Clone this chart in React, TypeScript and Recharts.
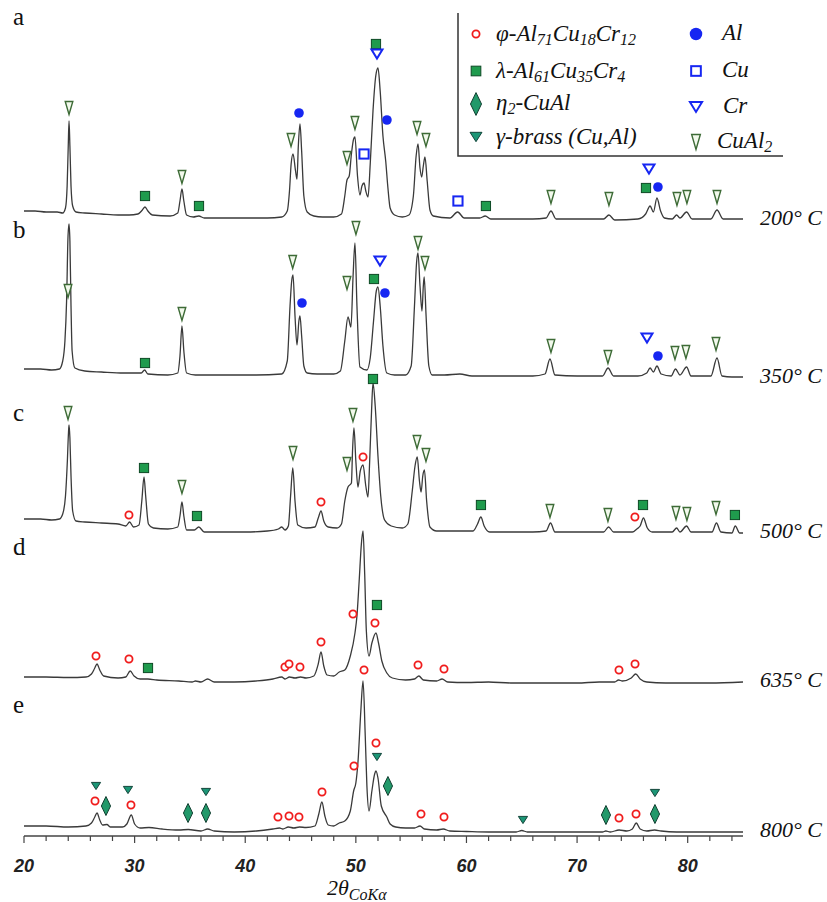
import React from 'react'
import { ComposedChart, Line, Scatter, XAxis, YAxis } from 'recharts'

type Pt = [number, number]

// 2θ (deg) vs intensity (arb. units), each pattern already shifted up for stacking
const pattern200: Pt[] = [
  [20.0, 625], [21.0, 625], [22.0, 624], [23.0, 624], [23.5, 623], [23.75, 628], [23.9, 650], [24.0, 690], [24.07, 715],
  [24.15, 690], [24.25, 650], [24.4, 630], [24.7, 624], [25.5, 623], [27.0, 622], [28.5, 621], [29.5, 621], [30.3, 622],
  [30.7, 626], [30.94, 629], [31.2, 625], [31.6, 621], [33.2, 620], [33.9, 623], [34.1, 635], [34.28, 647], [34.45, 635],
  [34.7, 621], [35.3, 619], [35.8, 620], [36.3, 618], [38.0, 618], [40.0, 618], [42.0, 618], [43.3, 619], [43.8, 625],
  [44.0, 645], [44.15, 672], [44.32, 682], [44.55, 665], [44.68, 657], [44.8, 690], [44.95, 712], [45.1, 685], [45.3, 640],
  [45.6, 624], [46.2, 620], [47.0, 619], [48.0, 619], [48.7, 622], [49.0, 640], [49.2, 656], [49.4, 660], [49.6, 682],
  [49.8, 697], [49.92, 699], [50.15, 660], [50.37, 641], [50.55, 650], [50.74, 653], [50.9, 645], [51.1, 639], [51.3, 672],
  [51.55, 725], [51.8, 760], [52.0, 768], [52.2, 745], [52.45, 700], [52.7, 675], [52.9, 648], [53.1, 628], [53.5, 621],
  [54.2, 619], [54.8, 621], [55.2, 640], [55.45, 680], [55.62, 692], [55.8, 668], [55.95, 659], [56.1, 670], [56.25, 679],
  [56.45, 655], [56.7, 626], [57.0, 620], [58.5, 618], [59.2, 624], [59.8, 618], [61.2, 618], [61.7, 620], [62.2, 617],
  [64.0, 617], [66.0, 617], [67.2, 618], [67.64, 625], [68.1, 617], [70.0, 617], [72.4, 617], [72.88, 621], [73.4, 616],
  [75.5, 617], [76.2, 622], [76.6, 630], [76.9, 624], [77.22, 638], [77.55, 625], [77.9, 618], [78.6, 617], [79.0, 621],
  [79.3, 618], [79.9, 624], [80.4, 617], [82.1, 617], [82.65, 626], [83.2, 617], [84.0, 617], [85.0, 617],
]

const pattern350: Pt[] = [
  [20.0, 467], [21.5, 467], [22.5, 466], [23.2, 467], [23.5, 475], [23.7, 495], [23.85, 535], [23.98, 600], [24.07, 612],
  [24.15, 595], [24.25, 530], [24.35, 485], [24.6, 468], [25.5, 465], [27.0, 464], [29.0, 463], [30.6, 463], [30.9, 466],
  [31.2, 462], [33.0, 461], [33.9, 463], [34.1, 480], [34.28, 510], [34.45, 485], [34.7, 463], [35.5, 461], [38.0, 461],
  [41.0, 461], [43.3, 462], [43.8, 475], [44.05, 530], [44.2, 555], [44.32, 561], [44.5, 520], [44.68, 491], [44.85, 515],
  [44.95, 520], [45.1, 500], [45.3, 470], [45.6, 463], [46.5, 462], [48.0, 462], [48.6, 465], [49.0, 495], [49.29, 519],
  [49.56, 509], [49.75, 560], [49.92, 593], [50.1, 530], [50.37, 469], [51.0, 466], [51.3, 478], [51.6, 515], [51.85, 545],
  [52.0, 549], [52.2, 530], [52.45, 490], [52.8, 463], [53.5, 461], [54.5, 461], [55.0, 470], [55.3, 530], [55.5, 575],
  [55.62, 583], [55.8, 550], [55.98, 525], [56.1, 550], [56.18, 559], [56.35, 520], [56.6, 470], [56.9, 461], [58.0, 461],
  [59.4, 462], [60.5, 460], [63.0, 460], [66.0, 460], [67.1, 462], [67.55, 477], [68.0, 461], [70.0, 460], [72.3, 460],
  [72.8, 468], [73.3, 460], [75.5, 460], [76.3, 463], [76.6, 468], [76.9, 464], [77.22, 470], [77.6, 462], [78.5, 460],
  [78.9, 467], [79.3, 461], [79.9, 469], [80.3, 460], [82.1, 460], [82.65, 478], [83.1, 460], [84.0, 459], [85.0, 459],
]

const pattern500: Pt[] = [
  [20.0, 317], [21.5, 317], [22.5, 316], [23.2, 317], [23.5, 322], [23.75, 340], [23.92, 375], [24.02, 403], [24.07, 411],
  [24.15, 398], [24.25, 360], [24.4, 325], [24.7, 315], [25.5, 314], [27.0, 313], [28.5, 312], [29.2, 310], [29.55, 314],
  [29.9, 309], [30.4, 311], [30.65, 335], [30.85, 359], [31.0, 340], [31.25, 312], [31.7, 308], [33.0, 307], [33.9, 309],
  [34.1, 320], [34.28, 334], [34.45, 320], [34.7, 306], [35.4, 306], [35.8, 309], [36.3, 304], [38.0, 304], [40.0, 304],
  [42.0, 305], [43.0, 307], [43.3, 309], [43.6, 306], [43.9, 310], [44.1, 340], [44.3, 368], [44.5, 335], [44.75, 311],
  [45.5, 308], [46.3, 309], [46.6, 318], [46.85, 325], [47.1, 315], [47.5, 309], [48.3, 308], [48.7, 312], [49.0, 335],
  [49.29, 349], [49.6, 353], [49.7, 385], [49.83, 408], [50.0, 375], [50.19, 349], [50.4, 365], [50.65, 371], [50.9, 350],
  [51.1, 339], [51.25, 375], [51.42, 425], [51.55, 453], [51.75, 430], [52.0, 380], [52.25, 340], [52.6, 316], [53.2, 310],
  [54.2, 308], [54.7, 312], [55.1, 345], [55.35, 370], [55.55, 379], [55.75, 355], [55.9, 344], [56.05, 360], [56.2, 366],
  [56.4, 335], [56.7, 309], [57.3, 305], [59.0, 305], [60.6, 305], [61.0, 312], [61.3, 319], [61.6, 310], [62.1, 304],
  [64.0, 304], [66.0, 304], [67.2, 305], [67.6, 313], [68.0, 304], [70.0, 304], [72.4, 304], [72.85, 309], [73.3, 304],
  [75.0, 304], [75.4, 307], [75.7, 310], [76.0, 318], [76.35, 308], [76.8, 304], [78.6, 304], [79.0, 308], [79.3, 304],
  [79.9, 310], [80.3, 304], [82.2, 304], [82.6, 313], [83.0, 304], [84.0, 303], [84.3, 310], [84.7, 303], [85.0, 303],
]

const pattern635: Pt[] = [
  [20.0, 159], [22.0, 159], [24.0, 158.5], [25.6, 159], [26.1, 162], [26.4, 168], [26.6, 172], [26.85, 166], [27.2, 160],
  [28.5, 158], [29.2, 159], [29.6, 165], [29.95, 160], [30.5, 157], [31.2, 157], [32.0, 156], [34.0, 155], [35.2, 154],
  [35.5, 155], [36.0, 154], [36.6, 157], [37.2, 154], [39.0, 154], [41.0, 155], [42.5, 157], [43.3, 159], [43.6, 157],
  [44.0, 159], [44.5, 158], [45.0, 159], [45.5, 158], [46.2, 160], [46.6, 172], [46.85, 184], [47.1, 170], [47.4, 161],
  [48.0, 160], [48.5, 164], [49.0, 166], [49.5, 180], [49.92, 203], [50.1, 220], [50.3, 255], [50.5, 292], [50.65, 305],
  [50.8, 262], [50.95, 205], [51.19, 180], [51.45, 193], [51.82, 203], [52.05, 193], [52.35, 175], [52.8, 163], [53.3, 158],
  [54.5, 156], [55.3, 157], [55.7, 160], [56.1, 156], [57.3, 155], [57.8, 157], [58.3, 154], [60.0, 153.5], [62.0, 154],
  [64.0, 153], [66.0, 153], [68.0, 153], [70.0, 153], [72.0, 154], [73.4, 154], [73.75, 156], [74.1, 155], [74.9, 158],
  [75.3, 162], [75.7, 157], [76.3, 154], [78.0, 153], [80.0, 153], [82.0, 153], [85.0, 154],
]

const pattern800: Pt[] = [
  [20.0, 10], [22.0, 10], [24.0, 9], [25.6, 10], [26.1, 13], [26.4, 19], [26.6, 23], [26.85, 16], [27.1, 11], [27.5, 11.5],
  [27.8, 9], [28.9, 9], [29.3, 12], [29.7, 21], [30.0, 12], [30.5, 8], [31.3, 8.5], [32.5, 7], [34.0, 6], [34.85, 6.5],
  [36.0, 5], [36.6, 7], [37.2, 5], [39.0, 4], [41.0, 5], [42.5, 7], [43.1, 8], [43.4, 7], [43.9, 9], [44.4, 8], [44.9, 9],
  [45.5, 8.5], [46.3, 10], [46.65, 22], [46.93, 34], [47.2, 20], [47.5, 11], [48.0, 10], [48.5, 13], [49.0, 15], [49.5, 25],
  [49.8, 45], [50.0, 53], [50.2, 75], [50.45, 125], [50.65, 155], [50.85, 100], [51.0, 50], [51.19, 25], [51.45, 45],
  [51.7, 62], [51.82, 65], [52.0, 58], [52.3, 30], [52.8, 19], [53.1, 12], [53.6, 9], [54.5, 8], [55.3, 8], [55.8, 10],
  [56.2, 7], [57.3, 6], [57.9, 7], [58.5, 5], [60.0, 4.5], [62.0, 4], [64.5, 4], [65.0, 5.5], [65.5, 4], [68.0, 4], [70.0, 4],
  [72.3, 4], [72.6, 5], [73.0, 4], [73.8, 6], [74.5, 5], [75.0, 7], [75.35, 13], [75.7, 7], [76.3, 5], [77.0, 6], [77.6, 5],
  [79.0, 4], [82.0, 4], [85.0, 4],
]

// phase markers: [2θ, marker height]
const phiMarks: Pt[] = [
  [29.49, 321], [46.85, 334], [50.65, 379], [75.23, 319],
  [26.51, 180], [29.49, 177], [43.59, 169], [43.96, 172], [44.95, 169], [46.85, 194], [49.74, 222], [50.74, 166],
  [51.73, 213], [55.62, 171], [57.97, 167], [73.79, 166], [75.24, 172],
  [26.42, 35], [29.67, 31], [42.96, 19], [43.96, 20], [44.86, 19], [46.94, 44], [49.83, 70], [51.82, 93], [55.89, 22],
  [57.97, 19], [73.79, 18], [75.33, 22],
]
const lambdaMarks: Pt[] = [
  [30.94, 640], [35.82, 630], [51.82, 792], [61.76, 630], [76.23, 648],
  [30.94, 473], [51.64, 557],
  [30.85, 368], [35.64, 320], [51.55, 457], [61.31, 331], [75.96, 331], [84.27, 321],
  [31.21, 168], [51.91, 231],
]
const etaMarks: Pt[] = [[27.41, 30], [34.83, 23], [36.45, 23], [52.9, 50], [72.61, 21], [77.04, 22]]
const gammaMarks: Pt[] = [[26.51, 50], [29.4, 46], [36.45, 44], [51.91, 79], [65.11, 16], [77.04, 43]]
const alMarks: Pt[] = [[44.86, 723], [52.81, 716], [77.31, 649], [45.13, 533], [52.63, 543], [77.31, 480]]
const cuMarks: Pt[] = [[50.74, 682], [59.23, 635]]
const crMarks: Pt[] = [[51.91, 782], [76.5, 667], [52.18, 575], [76.32, 498]]
const cuAl2Marks: Pt[] = [
  [24.07, 728], [34.28, 659], [44.14, 696], [49.2, 678], [49.92, 713], [55.53, 708], [56.34, 696], [67.64, 639],
  [72.88, 637], [79.03, 637], [79.93, 639], [82.65, 639],
  [23.98, 545], [34.28, 522], [44.29, 574], [49.2, 553], [50.01, 608], [55.62, 593], [56.25, 573], [67.64, 490],
  [72.79, 479], [78.85, 483], [79.84, 484], [82.56, 492],
  [23.98, 423], [34.28, 349], [44.32, 383], [49.2, 372], [49.74, 421], [55.53, 394], [56.34, 381], [67.55, 325],
  [72.79, 321], [78.94, 323], [79.93, 322], [82.56, 328],
]

const xTicks = [20, 22, 24, 26, 28, 30, 32, 34, 36, 38, 40, 42, 44, 46, 48, 50, 52, 54, 56, 58, 60, 62, 64, 66, 68, 70, 72, 74, 76, 78, 80, 82, 84]
const panelLetters = ['a', 'b', 'c', 'd', 'e']
const temperatures = ['200° C', '350° C', '500° C', '635° C', '800° C']

const rows = (pts: Pt[]) => pts.map(([t, i]) => ({ t, i }))

const SERIF = "'Liberation Serif', 'Times New Roman', Times, serif"
const BLUE = '#1626f2'

type Kind = 'phi' | 'lambda' | 'eta' | 'gamma' | 'al' | 'cu' | 'cr' | 'cual2'

function Mark({ kind, cx, cy, s = 1 }: { kind: Kind; cx: number; cy: number; s?: number }) {
  switch (kind) {
    case 'phi':
      return <circle cx={cx} cy={cy} r={3.6 * s} fill="#fff" stroke="#f01c1c" strokeWidth={1.8} />
    case 'lambda':
      return <rect x={cx - 4.6 * s} y={cy - 4.6 * s} width={9.2 * s} height={9.2 * s} fill="#1f9b4d" stroke="#0d4a25" strokeWidth={1} />
    case 'eta':
      return (
        <polygon
          points={`${cx},${cy - 9.5 * s} ${cx + 4.6 * s},${cy} ${cx},${cy + 9.5 * s} ${cx - 4.6 * s},${cy}`}
          fill="#22996a"
          stroke="#123f31"
          strokeWidth={1}
        />
      )
    case 'gamma':
      return (
        <polygon
          points={`${cx - 4.6 * s},${cy - 3.6 * s} ${cx + 4.6 * s},${cy - 3.6 * s} ${cx},${cy + 3.6 * s}`}
          fill="#1c9676"
          stroke="#12453a"
          strokeWidth={1}
        />
      )
    case 'al':
      return <circle cx={cx} cy={cy} r={4.8 * s} fill={BLUE} />
    case 'cu':
      return <rect x={cx - 4.6 * s} y={cy - 4.6 * s} width={9.2 * s} height={9.2 * s} fill="#fff" stroke={BLUE} strokeWidth={2} />
    case 'cr':
      return (
        <polygon
          points={`${cx - 5.5 * s},${cy - 4.5 * s} ${cx + 5.5 * s},${cy - 4.5 * s} ${cx},${cy + 4.5 * s}`}
          fill="#fff"
          stroke={BLUE}
          strokeWidth={2}
        />
      )
    default:
      return (
        <polygon
          points={`${cx - 3.8 * s},${cy - 6.5 * s} ${cx + 3.8 * s},${cy - 6.5 * s} ${cx},${cy + 6.5 * s}`}
          fill="#f2f9ec"
          stroke="#3d6b36"
          strokeWidth={1.4}
        />
      )
  }
}

const AxisTick = (props: any) => {
  const { x, y, payload } = props
  const major = payload.value % 10 === 0
  return (
    <g>
      <line x1={x} x2={x} y1={y} y2={y + (major ? 7 : 5)} stroke="#444" strokeWidth={1.2} />
      {major && (
        <text
          x={x}
          y={y + 36}
          textAnchor="middle"
          style={{ fontFamily: "'Liberation Sans', Arial, sans-serif", fontWeight: 'bold', fontStyle: 'italic', fontSize: 18 }}
          fill="#222"
        >
          {payload.value}
        </text>
      )}
    </g>
  )
}

const patterns = [pattern200, pattern350, pattern500, pattern635, pattern800]
const markSets: [Kind, Pt[]][] = [
  ['cual2', cuAl2Marks],
  ['phi', phiMarks],
  ['lambda', lambdaMarks],
  ['eta', etaMarks],
  ['gamma', gammaMarks],
  ['al', alMarks],
  ['cu', cuMarks],
  ['cr', crMarks],
]

const letterY = [25, 238, 421, 555, 713]
const tempY = [225, 383, 538, 687, 837]

const serifText = { fontFamily: SERIF, fontStyle: 'italic' as const, fontSize: 22 }
const legendText = { fontFamily: SERIF, fontStyle: 'italic' as const, fontSize: 23 }
const sub = { fontSize: 16 }

export default function App() {
  return (
    <div style={{ position: 'absolute', left: 0, top: 0, width: 827, height: 902, background: '#fff' }}>
      <ComposedChart width={827} height={902} margin={{ top: 0, right: 84, bottom: 0, left: 24 }}>
        <XAxis
          type="number"
          dataKey="t"
          domain={[20, 85]}
          ticks={xTicks}
          allowDataOverflow
          height={66}
          tickSize={0}
          tickMargin={0}
          tickLine={false}
          axisLine={{ stroke: '#444', strokeWidth: 1.5 }}
          tick={AxisTick}
          interval={0}
        />
        <YAxis type="number" domain={[0, 836]} hide allowDataOverflow />
        {patterns.map((p, k) => (
          <Line
            key={k}
            data={rows(p)}
            dataKey="i"
            type="monotone"
            stroke="#3a3a3a"
            strokeWidth={1.3}
            dot={false}
            activeDot={false}
            isAnimationActive={false}
          />
        ))}
        {markSets.map(([kind, pts]) => (
          <Scatter
            key={kind}
            data={rows(pts)}
            dataKey="i"
            isAnimationActive={false}
            shape={(p: any) => <Mark kind={kind} cx={p.cx} cy={p.cy} />}
          />
        ))}
      </ComposedChart>
      <svg width={827} height={902} style={{ position: 'absolute', left: 0, top: 0, pointerEvents: 'none' }}>
        {panelLetters.map((l, k) => (
          <text key={l} x={13} y={letterY[k]} style={{ fontFamily: SERIF, fontSize: 25 }} fill="#111">
            {l}
          </text>
        ))}
        {temperatures.map((t, k) => (
          <text key={t} x={760} y={tempY[k]} style={serifText} fill="#111">
            {t}
          </text>
        ))}
        <text x={327} y={895} style={serifText} fill="#111">
          2θ<tspan style={{ fontSize: 16 }} dy={5}>CoKα</tspan>
        </text>
        {/* legend */}
        <polyline points="458,13 458,156 783,156" fill="none" stroke="#333" strokeWidth={1.5} />
        <Mark kind="phi" cx={476} cy={34} s={1} />
        <Mark kind="lambda" cx={476} cy={71} s={1.05} />
        <Mark kind="eta" cx={476} cy={104} s={1.2} />
        <Mark kind="gamma" cx={476} cy={137} s={1.3} />
        <Mark kind="al" cx={696} cy={34} s={1.3} />
        <Mark kind="cu" cx={696} cy={71} s={1.05} />
        <Mark kind="cr" cx={696} cy={107} s={1.1} />
        <Mark kind="cual2" cx={696} cy={142} s={1.15} />
        <g style={legendText} fill="#111">
          <text x={496} y={41}>
            φ-Al<tspan style={sub} dy={4}>71</tspan>
            <tspan dy={-4}>Cu</tspan>
            <tspan style={sub} dy={4}>18</tspan>
            <tspan dy={-4}>Cr</tspan>
            <tspan style={sub} dy={4}>12</tspan>
          </text>
          <text x={496} y={78}>
            λ-Al<tspan style={sub} dy={4}>61</tspan>
            <tspan dy={-4}>Cu</tspan>
            <tspan style={sub} dy={4}>35</tspan>
            <tspan dy={-4}>Cr</tspan>
            <tspan style={sub} dy={4}>4</tspan>
          </text>
          <text x={496} y={110}>
            η<tspan style={sub} dy={4}>2</tspan>
            <tspan dy={-4}>-CuAl</tspan>
          </text>
          <text x={496} y={144}>γ-brass (Cu,Al)</text>
          <text x={722} y={40}>Al</text>
          <text x={722} y={77}>Cu</text>
          <text x={723} y={113}>Cr</text>
          <text x={717} y={148}>
            CuAl<tspan style={sub} dy={4}>2</tspan>
          </text>
        </g>
      </svg>
    </div>
  )
}
